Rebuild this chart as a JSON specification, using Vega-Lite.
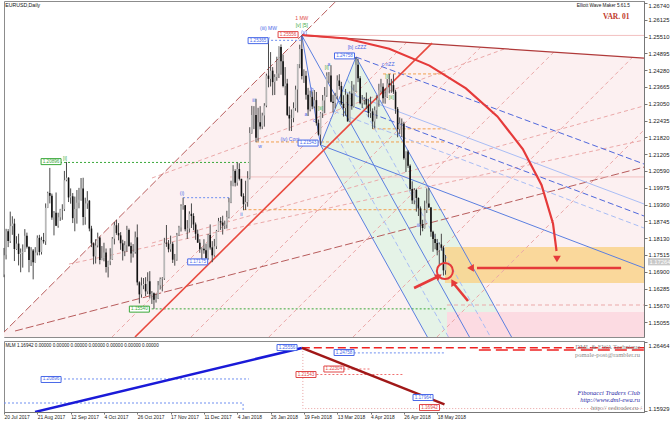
{
"$schema":"https://vega.github.io/schema/vega-lite/v6.json",
"padding":{"left":2,"top":0,"right":0,"bottom":0},
"background":"white",
"spacing":2,
"config":{"view":{"stroke":"#8c8c8c"},"axis":{"labelFont":"Liberation Sans","labelFontSize":5.8,"labelColor":"#222","domainColor":"#777","tickColor":"#777","tickSize":3,"grid":false,"title":null},"text":{"font":"Liberation Sans"}},
"datasets":{
"candles":[
{"i":-16,"o":1.1680,"h":1.1777,"l":1.1670,"c":1.1750},{"i":-15,"o":1.1752,"h":1.1847,"l":1.1735,"c":1.1838},{"i":-14,"o":1.1838,"h":1.1846,"l":1.1780,"c":1.1802},{"i":-13,"o":1.1802,"h":1.1910,"l":1.1795,"c":1.1857},{"i":-12,"o":1.1857,"h":1.1893,"l":1.1825,"c":1.1866},{"i":-11,"o":1.1866,"h":1.1884,"l":1.1729,"c":1.1773},{"i":-10,"o":1.1773,"h":1.1820,"l":1.1770,"c":1.1793},{"i":-9,"o":1.1793,"h":1.1829,"l":1.1713,"c":1.1755},{"i":-8,"o":1.1755,"h":1.1775,"l":1.1688,"c":1.1760},{"i":-7,"o":1.1760,"h":1.1790,"l":1.1705,"c":1.1763},{"i":-6,"o":1.1763,"h":1.1846,"l":1.1762,"c":1.1822},{"i":-5,"o":1.1822,"h":1.1833,"l":1.1775,"c":1.1781},{"i":-4,"o":1.1781,"h":1.1782,"l":1.1688,"c":1.1733},{"i":-3,"o":1.1733,"h":1.1780,"l":1.1711,"c":1.1768},{"i":-2,"o":1.1768,"h":1.1773,"l":1.1662,"c":1.1725},{"i":-1,"o":1.1725,"h":1.1780,"l":1.1723,"c":1.1760},
{"i":0,"o":1.1760,"h":1.1823,"l":1.1750,"c":1.1814},{"i":1,"o":1.1814,"h":1.1825,"l":1.1750,"c":1.1762},{"i":2,"o":1.1762,"h":1.1818,"l":1.1753,"c":1.1806},{"i":3,"o":1.1806,"h":1.1832,"l":1.1793,"c":1.1801},{"i":4,"o":1.1801,"h":1.1940,"l":1.1788,"c":1.1924},{"i":5,"o":1.1924,"h":1.1983,"l":1.1923,"c":1.1978},{"i":6,"o":1.1978,"h":1.2070,"l":1.1940,"c":1.1968},{"i":7,"o":1.1968,"h":1.1976,"l":1.1880,"c":1.1888},{"i":8,"o":1.1888,"h":1.1912,"l":1.1823,"c":1.1906},{"i":9,"o":1.1906,"h":1.1980,"l":1.1857,"c":1.1858},{"i":10,"o":1.1858,"h":1.1906,"l":1.1851,"c":1.1889},{"i":11,"o":1.1889,"h":1.1920,"l":1.1876,"c":1.1918},{"i":12,"o":1.1918,"h":1.1937,"l":1.1880,"c":1.1919},{"i":13,"o":1.1919,"h":1.2059,"l":1.1912,"c":1.2025},{"i":14,"o":1.2025,"h":1.2092,"l":1.2021,"c":1.2034},{"i":15,"o":1.2034,"h":1.2036,"l":1.1945,"c":1.1962},
{"i":16,"o":1.1962,"h":1.1995,"l":1.1939,"c":1.1966},{"i":17,"o":1.1966,"h":1.1978,"l":1.1868,"c":1.1886},{"i":18,"o":1.1886,"h":1.1965,"l":1.1838,"c":1.1920},{"i":19,"o":1.1920,"h":1.1989,"l":1.1866,"c":1.1942},{"i":20,"o":1.1942,"h":1.1997,"l":1.1922,"c":1.1953},{"i":21,"o":1.1953,"h":1.2033,"l":1.1950,"c":1.1995},{"i":22,"o":1.1995,"h":1.2034,"l":1.1860,"c":1.1890},{"i":23,"o":1.1890,"h":1.1961,"l":1.1862,"c":1.1940},{"i":24,"o":1.1940,"h":1.1985,"l":1.1920,"c":1.1950},{"i":25,"o":1.1950,"h":1.1952,"l":1.1838,"c":1.1848},{"i":26,"o":1.1848,"h":1.1858,"l":1.1780,"c":1.1794},{"i":27,"o":1.1794,"h":1.1797,"l":1.1717,"c":1.1746},{"i":28,"o":1.1746,"h":1.1809,"l":1.1720,"c":1.1786},{"i":29,"o":1.1786,"h":1.1833,"l":1.1779,"c":1.1815},{"i":30,"o":1.1815,"h":1.1819,"l":1.1717,"c":1.1733},{"i":31,"o":1.1733,"h":1.1784,"l":1.1732,"c":1.1740},
{"i":32,"o":1.1740,"h":1.1796,"l":1.1728,"c":1.1760},{"i":33,"o":1.1760,"h":1.1775,"l":1.1687,"c":1.1707},{"i":34,"o":1.1707,"h":1.1730,"l":1.1669,"c":1.1728},{"i":35,"o":1.1728,"h":1.1776,"l":1.1714,"c":1.1735},{"i":36,"o":1.1735,"h":1.1817,"l":1.1733,"c":1.1811},{"i":37,"o":1.1811,"h":1.1872,"l":1.1790,"c":1.1860},{"i":38,"o":1.1860,"h":1.1880,"l":1.1825,"c":1.1832},{"i":39,"o":1.1832,"h":1.1868,"l":1.1805,"c":1.1823},{"i":40,"o":1.1823,"h":1.1835,"l":1.1770,"c":1.1794},{"i":41,"o":1.1794,"h":1.1807,"l":1.1731,"c":1.1765},{"i":42,"o":1.1765,"h":1.1802,"l":1.1747,"c":1.1787},{"i":43,"o":1.1787,"h":1.1858,"l":1.1763,"c":1.1843},{"i":44,"o":1.1843,"h":1.1848,"l":1.1781,"c":1.1784},{"i":45,"o":1.1784,"h":1.1797,"l":1.1723,"c":1.1757},{"i":46,"o":1.1757,"h":1.1791,"l":1.1742,"c":1.1762},{"i":47,"o":1.1762,"h":1.1837,"l":1.1756,"c":1.1816},
{"i":48,"o":1.1816,"h":1.1863,"l":1.1640,"c":1.1651},{"i":49,"o":1.1651,"h":1.1655,"l":1.1574,"c":1.1607},{"i":50,"o":1.1607,"h":1.1669,"l":1.1595,"c":1.1640},{"i":51,"o":1.1640,"h":1.1667,"l":1.1626,"c":1.1645},{"i":52,"o":1.1645,"h":1.1670,"l":1.1601,"c":1.1618},{"i":53,"o":1.1618,"h":1.1688,"l":1.1608,"c":1.1655},{"i":54,"o":1.1655,"h":1.1692,"l":1.1592,"c":1.1607},{"i":55,"o":1.1607,"h":1.1619,"l":1.1572,"c":1.1611},{"i":56,"o":1.1611,"h":1.1614,"l":1.1554,"c":1.1587},{"i":57,"o":1.1587,"h":1.1610,"l":1.1577,"c":1.1592},{"i":58,"o":1.1592,"h":1.1656,"l":1.1590,"c":1.1640},{"i":59,"o":1.1640,"h":1.1669,"l":1.1625,"c":1.1663},{"i":60,"o":1.1663,"h":1.1670,"l":1.1618,"c":1.1665},{"i":61,"o":1.1665,"h":1.1814,"l":1.1660,"c":1.1796},{"i":62,"o":1.1796,"h":1.1861,"l":1.1781,"c":1.1793},{"i":63,"o":1.1793,"h":1.1806,"l":1.1761,"c":1.1772},
{"i":64,"o":1.1772,"h":1.1822,"l":1.1763,"c":1.1792},{"i":65,"o":1.1792,"h":1.1799,"l":1.1722,"c":1.1734},{"i":66,"o":1.1734,"h":1.1755,"l":1.1712,"c":1.1734},{"i":67,"o":1.1734,"h":1.1832,"l":1.1730,"c":1.1825},{"i":68,"o":1.1825,"h":1.1858,"l":1.1821,"c":1.1852},{"i":69,"o":1.1852,"h":1.1937,"l":1.1837,"c":1.1931},{"i":70,"o":1.1931,"h":1.1961,"l":1.1917,"c":1.1933},{"i":71,"o":1.1933,"h":1.1934,"l":1.1838,"c":1.1845},{"i":72,"o":1.1845,"h":1.1879,"l":1.1810,"c":1.1848},{"i":73,"o":1.1848,"h":1.1911,"l":1.1834,"c":1.1902},{"i":74,"o":1.1902,"h":1.1940,"l":1.1850,"c":1.1894},{"i":75,"o":1.1894,"h":1.1904,"l":1.1842,"c":1.1863},{"i":76,"o":1.1863,"h":1.1870,"l":1.1807,"c":1.1829},{"i":77,"o":1.1829,"h":1.1844,"l":1.1797,"c":1.1796},{"i":78,"o":1.1796,"h":1.1809,"l":1.1759,"c":1.1772},{"i":79,"o":1.1772,"h":1.1779,"l":1.1730,"c":1.1774},
{"i":80,"o":1.1774,"h":1.1809,"l":1.1756,"c":1.1769},{"i":81,"o":1.1769,"h":1.1793,"l":1.1717,"c":1.1740},{"i":82,"o":1.1740,"h":1.1828,"l":1.1734,"c":1.1824},{"i":83,"o":1.1824,"h":1.1863,"l":1.1771,"c":1.1779},{"i":84,"o":1.1779,"h":1.1802,"l":1.1725,"c":1.1750},{"i":85,"o":1.1750,"h":1.1810,"l":1.1745,"c":1.1783},{"i":86,"o":1.1783,"h":1.1843,"l":1.1773,"c":1.1839},{"i":87,"o":1.1839,"h":1.1887,"l":1.1837,"c":1.1875},{"i":88,"o":1.1875,"h":1.1890,"l":1.1843,"c":1.1870},{"i":89,"o":1.1870,"h":1.1895,"l":1.1826,"c":1.1859},{"i":90,"o":1.1859,"h":1.1877,"l":1.1846,"c":1.1862},{"i":91,"o":1.1862,"h":1.1913,"l":1.1848,"c":1.1890},{"i":92,"o":1.1890,"h":1.1960,"l":1.1885,"c":1.1944},{"i":93,"o":1.1944,"h":1.2023,"l":1.1941,"c":1.2005},{"i":94,"o":1.2005,"h":1.2080,"l":1.2003,"c":1.2059},{"i":95,"o":1.2059,"h":1.2065,"l":1.2002,"c":1.2016},
{"i":96,"o":1.2016,"h":1.2089,"l":1.2005,"c":1.2066},{"i":97,"o":1.2066,"h":1.2087,"l":1.2024,"c":1.2030},{"i":98,"o":1.2030,"h":1.2030,"l":1.1964,"c":1.1967},{"i":99,"o":1.1967,"h":1.1977,"l":1.1915,"c":1.1937},{"i":100,"o":1.1937,"h":1.2023,"l":1.1916,"c":1.1945},{"i":101,"o":1.1945,"h":1.2058,"l":1.1928,"c":1.2032},{"i":102,"o":1.2032,"h":1.2219,"l":1.2028,"c":1.2198},{"i":103,"o":1.2198,"h":1.2297,"l":1.2195,"c":1.2264},{"i":104,"o":1.2264,"h":1.2296,"l":1.2212,"c":1.2264},{"i":105,"o":1.2264,"h":1.2323,"l":1.2164,"c":1.2180},{"i":106,"o":1.2180,"h":1.2290,"l":1.2167,"c":1.2237},{"i":107,"o":1.2237,"h":1.2296,"l":1.2211,"c":1.2222},{"i":108,"o":1.2222,"h":1.2272,"l":1.2212,"c":1.2262},{"i":109,"o":1.2262,"h":1.2307,"l":1.2221,"c":1.2298},{"i":110,"o":1.2298,"h":1.2415,"l":1.2292,"c":1.2408},{"i":111,"o":1.2408,"h":1.2537,"l":1.2365,"c":1.2396},
{"i":112,"o":1.2396,"h":1.2494,"l":1.2368,"c":1.2426},{"i":113,"o":1.2426,"h":1.2439,"l":1.2336,"c":1.2384},{"i":114,"o":1.2384,"h":1.2413,"l":1.2337,"c":1.2403},{"i":115,"o":1.2403,"h":1.2477,"l":1.2389,"c":1.2416},{"i":116,"o":1.2416,"h":1.2515,"l":1.2399,"c":1.2513},{"i":117,"o":1.2513,"h":1.2522,"l":1.2411,"c":1.2460},{"i":118,"o":1.2460,"h":1.2485,"l":1.2365,"c":1.2370},{"i":119,"o":1.2370,"h":1.2439,"l":1.2336,"c":1.2379},{"i":120,"o":1.2379,"h":1.2396,"l":1.2260,"c":1.2264},{"i":121,"o":1.2264,"h":1.2295,"l":1.2206,"c":1.2251},{"i":122,"o":1.2251,"h":1.2284,"l":1.2205,"c":1.2253},{"i":123,"o":1.2253,"h":1.2310,"l":1.2237,"c":1.2289},{"i":124,"o":1.2289,"h":1.2371,"l":1.2279,"c":1.2357},{"i":125,"o":1.2357,"h":1.2450,"l":1.2273,"c":1.2450},{"i":126,"o":1.2450,"h":1.2521,"l":1.2435,"c":1.2505},{"i":127,"o":1.2505,"h":1.2555,"l":1.2394,"c":1.2406},
{"i":128,"o":1.2406,"h":1.2431,"l":1.2381,"c":1.2407},{"i":129,"o":1.2407,"h":1.2425,"l":1.2320,"c":1.2338},{"i":130,"o":1.2338,"h":1.2363,"l":1.2260,"c":1.2284},{"i":131,"o":1.2284,"h":1.2353,"l":1.2277,"c":1.2330},{"i":132,"o":1.2330,"h":1.2350,"l":1.2285,"c":1.2295},{"i":133,"o":1.2295,"h":1.2355,"l":1.2288,"c":1.2318},{"i":134,"o":1.2318,"h":1.2348,"l":1.2225,"c":1.2234},{"i":135,"o":1.2234,"h":1.2247,"l":1.2188,"c":1.2192},{"i":136,"o":1.2192,"h":1.2274,"l":1.2154,"c":1.2270},{"i":137,"o":1.2270,"h":1.2337,"l":1.2253,"c":1.2317},{"i":138,"o":1.2317,"h":1.2366,"l":1.2270,"c":1.2335},{"i":139,"o":1.2335,"h":1.2420,"l":1.2330,"c":1.2407},{"i":140,"o":1.2407,"h":1.2421,"l":1.2380,"c":1.2408},{"i":141,"o":1.2408,"h":1.2446,"l":1.2310,"c":1.2312},{"i":142,"o":1.2312,"h":1.2338,"l":1.2273,"c":1.2308},{"i":143,"o":1.2308,"h":1.2345,"l":1.2288,"c":1.2334},
{"i":144,"o":1.2334,"h":1.2409,"l":1.2321,"c":1.2390},{"i":145,"o":1.2390,"h":1.2413,"l":1.2356,"c":1.2370},{"i":146,"o":1.2370,"h":1.2385,"l":1.2300,"c":1.2305},{"i":147,"o":1.2305,"h":1.2336,"l":1.2258,"c":1.2289},{"i":148,"o":1.2289,"h":1.2359,"l":1.2261,"c":1.2338},{"i":149,"o":1.2338,"h":1.2343,"l":1.2240,"c":1.2240},{"i":150,"o":1.2240,"h":1.2350,"l":1.2238,"c":1.2342},{"i":151,"o":1.2342,"h":1.2388,"l":1.2283,"c":1.2297},{"i":152,"o":1.2297,"h":1.2375,"l":1.2291,"c":1.2352},{"i":153,"o":1.2352,"h":1.2476,"l":1.2348,"c":1.2448},{"i":154,"o":1.2448,"h":1.2470,"l":1.2384,"c":1.2398},{"i":155,"o":1.2398,"h":1.2406,"l":1.2303,"c":1.2307},{"i":156,"o":1.2307,"h":1.2337,"l":1.2289,"c":1.2319},{"i":157,"o":1.2319,"h":1.2329,"l":1.2302,"c":1.2323},{"i":158,"o":1.2323,"h":1.2346,"l":1.2286,"c":1.2302},{"i":159,"o":1.2302,"h":1.2323,"l":1.2256,"c":1.2271},
{"i":160,"o":1.2271,"h":1.2331,"l":1.2253,"c":1.2277},{"i":161,"o":1.2277,"h":1.2288,"l":1.2213,"c":1.2240},{"i":162,"o":1.2240,"h":1.2295,"l":1.2215,"c":1.2281},{"i":163,"o":1.2281,"h":1.2336,"l":1.2250,"c":1.2318},{"i":164,"o":1.2318,"h":1.2378,"l":1.2294,"c":1.2354},{"i":165,"o":1.2354,"h":1.2396,"l":1.2346,"c":1.2367},{"i":166,"o":1.2367,"h":1.2380,"l":1.2306,"c":1.2325},{"i":167,"o":1.2325,"h":1.2360,"l":1.2305,"c":1.2330},{"i":168,"o":1.2330,"h":1.2396,"l":1.2326,"c":1.2379},{"i":169,"o":1.2379,"h":1.2414,"l":1.2343,"c":1.2374},{"i":170,"o":1.2374,"h":1.2396,"l":1.2345,"c":1.2373},{"i":171,"o":1.2373,"h":1.2413,"l":1.2341,"c":1.2349},{"i":172,"o":1.2349,"h":1.2356,"l":1.2268,"c":1.2286},{"i":173,"o":1.2286,"h":1.2293,"l":1.2182,"c":1.2212},{"i":174,"o":1.2212,"h":1.2255,"l":1.2194,"c":1.2233},{"i":175,"o":1.2233,"h":1.2251,"l":1.2183,"c":1.2232},
{"i":176,"o":1.2232,"h":1.2239,"l":1.2100,"c":1.2105},{"i":177,"o":1.2105,"h":1.2130,"l":1.2055,"c":1.2130},{"i":178,"o":1.2130,"h":1.2135,"l":1.2070,"c":1.2078},{"i":179,"o":1.2078,"h":1.2083,"l":1.1986,"c":1.1993},{"i":180,"o":1.1993,"h":1.2021,"l":1.1938,"c":1.1951},{"i":181,"o":1.1951,"h":1.1996,"l":1.1937,"c":1.1989},{"i":182,"o":1.1989,"h":1.1994,"l":1.1910,"c":1.1960},{"i":183,"o":1.1960,"h":1.1962,"l":1.1894,"c":1.1922},{"i":184,"o":1.1922,"h":1.1929,"l":1.1823,"c":1.1864},{"i":185,"o":1.1864,"h":1.1880,"l":1.1838,"c":1.1850},{"i":186,"o":1.1850,"h":1.1950,"l":1.1848,"c":1.1915},{"i":187,"o":1.1915,"h":1.1995,"l":1.1905,"c":1.1940},{"i":188,"o":1.1940,"h":1.1997,"l":1.1924,"c":1.1925},{"i":189,"o":1.1925,"h":1.1927,"l":1.1818,"c":1.1836},{"i":190,"o":1.1836,"h":1.1840,"l":1.1763,"c":1.1810},{"i":191,"o":1.1810,"h":1.1829,"l":1.1772,"c":1.1795},
{"i":192,"o":1.1795,"h":1.1810,"l":1.1750,"c":1.1769},{"i":193,"o":1.1769,"h":1.1797,"l":1.1717,"c":1.1790},{"i":194,"o":1.1790,"h":1.1829,"l":1.1767,"c":1.1778},{"i":195,"o":1.1778,"h":1.1785,"l":1.1676,"c":1.1695},{"i":196,"o":1.1695,"h":1.1751,"l":1.1679,"c":1.1726}
],
"pinkpoly":[{"i":-16.9,"p":1.1462},{"i":127,"p":1.2555},{"i":291.3,"p":1.2472}],
"fork":[{"i":136,"p":1.2154,"p2":1.2154},{"i":153,"p":1.2476,"p2":1.19209},{"i":187.3,"p":1.20056,"p2":1.1451},{"i":227.7,"p":1.1451,"p2":1.1451}],
"zones":[{"z":"orange","i":195.7,"i2":291.3,"p":1.17805,"p2":1.16487},{"z":"pink","i":196.7,"i2":291.3,"p":1.15425,"p2":1.1451}],
"lines":[
{"g":"darkred","k":"top","n":1,"i":127,"p":1.2555},{"g":"darkred","k":"top","n":2,"i":291.3,"p":1.2472},
{"g":"red","k":"zb","n":1,"i":46.9,"p":1.1451},{"g":"red","k":"zb","n":2,"i":189.5,"p":1.2527},
{"g":"browndash","k":"rise","n":1,"i":-16.9,"p":1.1462},{"g":"browndash","k":"rise","n":2,"i":143.5,"p":1.2681},
{"g":"browndash","k":"bd1","n":1,"i":-10.7,"p":1.1473},{"g":"browndash","k":"bd1","n":2,"i":291.3,"p":1.2073},
{"g":"pinkdash","k":"pd1","n":1,"i":15.2,"p":1.1718},{"g":"pinkdash","k":"pd1","n":2,"i":291.3,"p":1.2172},
{"g":"pinkdash","k":"pd2","n":1,"i":55.06,"p":1.1795},{"g":"pinkdash","k":"pd2","n":2,"i":291.3,"p":1.2297},
{"g":"pinkdash","k":"pd3","n":1,"i":55.06,"p":1.2033},{"g":"pinkdash","k":"pd3","n":2,"i":224.1,"p":1.2505},
{"g":"pinkdash","k":"pp1","n":1,"i":35.86,"p":1.1451},{"g":"pinkdash","k":"pp1","n":2,"i":177.4,"p":1.2530},
{"g":"pinkdash","k":"pp2","n":1,"i":73.8,"p":1.1451},{"g":"pinkdash","k":"pp2","n":2,"i":212.9,"p":1.2512},
{"g":"pinkdash","k":"pp3","n":1,"i":111.2,"p":1.1451},{"g":"pinkdash","k":"pp3","n":2,"i":248.0,"p":1.2494},
{"g":"pinkdash","k":"pp4","n":1,"i":151.6,"p":1.1451},{"g":"pinkdash","k":"pp4","n":2,"i":285.8,"p":1.2475},
{"g":"pinkdash","k":"pp5","n":1,"i":191.9,"p":1.1451},{"g":"pinkdash","k":"pp5","n":2,"i":291.3,"p":1.2209},
{"g":"pinkdash","k":"ph","n":1,"i":196.7,"p":1.15681},{"g":"pinkdash","k":"ph","n":2,"i":291.3,"p":1.15681},
{"g":"pinkline","k":"h1","n":1,"i":127,"p":1.2555},{"g":"pinkline","k":"h1","n":2,"i":291.3,"p":1.2555},
{"g":"pinkline","k":"h2","n":1,"i":92.5,"p":1.2037},{"g":"pinkline","k":"h2","n":2,"i":291.3,"p":1.2037},
{"g":"blue","k":"va","n":1,"i":127,"p":1.2555},{"g":"blue","k":"va","n":2,"i":136,"p":1.2154},
{"g":"blue","k":"ab","n":1,"i":136,"p":1.2154},{"g":"blue","k":"ab","n":2,"i":153,"p":1.2476},
{"g":"blue","k":"med","n":1,"i":127,"p":1.2555},{"g":"blue","k":"med","n":2,"i":207.5,"p":1.1451},
{"g":"blue","k":"fa","n":1,"i":136,"p":1.2154},{"g":"blue","k":"fa","n":2,"i":187.3,"p":1.1451},
{"g":"blue","k":"fb","n":1,"i":153,"p":1.2476},{"g":"blue","k":"fb","n":2,"i":227.7,"p":1.1451},
{"g":"blue","k":"chlo","n":1,"i":136,"p":1.2154},{"g":"blue","k":"chlo","n":2,"i":291.3,"p":1.17036},
{"g":"bluedash","k":"chup","n":1,"i":153,"p":1.2476},{"g":"bluedash","k":"chup","n":2,"i":291.3,"p":1.20843},
{"g":"bluedash","k":"ch50","n":1,"i":144.5,"p":1.2315},{"g":"bluedash","k":"ch50","n":2,"i":291.3,"p":1.1894},
{"g":"ltblue","k":"ch38","n":1,"i":146.5,"p":1.2353},{"g":"ltblue","k":"ch38","n":2,"i":291.3,"p":1.19379},
{"g":"ltbluedash","k":"ch62","n":1,"i":142.5,"p":1.2277},{"g":"ltbluedash","k":"ch62","n":2,"i":291.3,"p":1.1850},
{"g":"ltbluedash","k":"f25","n":1,"i":140.25,"p":1.22345},{"g":"ltbluedash","k":"f25","n":2,"i":197.4,"p":1.1451},
{"g":"ltbluedash","k":"f75","n":1,"i":148.75,"p":1.23955},{"g":"ltbluedash","k":"f75","n":2,"i":217.6,"p":1.1451},
{"g":"greendot","k":"g1","n":1,"i":10.9,"p":1.2090},{"g":"greendot","k":"g1","n":2,"i":101.6,"p":1.2090},
{"g":"greendot","k":"g2","n":1,"i":54.9,"p":1.1554},{"g":"greendot","k":"g2","n":2,"i":196,"p":1.1554},
{"g":"bluedot","k":"b1","n":1,"i":108.4,"p":1.2537},{"g":"bluedot","k":"b1","n":2,"i":127,"p":1.2537},
{"g":"bluedot","k":"b2","n":1,"i":70,"p":1.1961},{"g":"bluedot","k":"b2","n":2,"i":92.5,"p":1.1961},
{"g":"orangedot","k":"o1","n":1,"i":105,"p":1.2165},{"g":"orangedot","k":"o1","n":2,"i":196,"p":1.2165},
{"g":"orangedot","k":"o2","n":1,"i":99,"p":1.1917},{"g":"orangedot","k":"o2","n":2,"i":196,"p":1.1917},
{"g":"orangedot","k":"o3","n":1,"i":161,"p":1.2213},{"g":"orangedot","k":"o3","n":2,"i":196,"p":1.2213},
{"g":"orangedot","k":"o4","n":1,"i":166,"p":1.2414},{"g":"orangedot","k":"o4","n":2,"i":196,"p":1.2414}
],
"arc":[{"n":1,"i":127.1,"p":1.25565},{"n":2,"i":148.4,"p":1.25437},{"n":3,"i":168.95,"p":1.25064},{"n":4,"i":188.3,"p":1.24445},{"n":5,"i":205.8,"p":1.2361},{"n":6,"i":220.9,"p":1.22586},{"n":7,"i":233.1,"p":1.21392},{"n":8,"i":242.1,"p":1.20074},{"n":9,"i":247.6,"p":1.18669},{"n":10,"i":249.3,"p":1.17658}],
"arrows":[{"k":"h","n":1,"i":280.3,"p":1.17036},{"k":"h","n":2,"i":211.1,"p":1.17036},{"k":"s1","n":1,"i":180.9,"p":1.16304},{"k":"s1","n":2,"i":191.9,"p":1.16706},{"k":"s2","n":1,"i":206.8,"p":1.15828},{"k":"s2","n":2,"i":200.07,"p":1.1645}],
"heads":[{"k":"arc","i":249.5,"p":1.17365,"a":180},{"k":"h","i":208,"p":1.17036,"a":270},{"k":"s1","i":192.8,"p":1.1674,"a":60},{"k":"s2","i":199.6,"p":1.1652,"a":-30}],
"circle":[{"i":195.7,"p":1.16926}],
"boxes":[{"g":"red","i":120.4,"p":1.2558,"t":"1.25556"},{"g":"blue","i":106,"p":1.2536,"t":"1.25365"},{"g":"green","i":6.6,"p":1.2093,"t":"1.20896"},{"g":"green","i":49,"p":1.1553,"t":"1.15540"},{"g":"blue","i":130,"p":1.2161,"t":"1.21543"},{"g":"blue","i":147.5,"p":1.2480,"t":"1.24758"},{"g":"blue","i":77,"p":1.1726,"t":"1.17175"}],
"labels":[{"g":"brown","i":127,"p":1.2619,"t":"1 MW"},{"g":"green","i":127,"p":1.2593,"t":"[v] [5]"},{"g":"blue","i":128,"p":1.2568,"t":"(v)"},{"g":"blue","i":111,"p":1.2581,"t":"(iii) MW"},{"g":"blue","i":153.5,"p":1.2514,"t":"[b] cZZZ"},{"g":"orange","i":168.4,"p":1.2450,"t":"c nZZ"},{"g":"blue","i":69.5,"p":1.1978,"t":"(i)"},{"g":"green","i":13.3,"p":1.2106,"t":"[i]"},{"g":"blue","i":121.3,"p":1.2174,"t":"(iv) Cont"},{"g":"orange","i":111,"p":1.2545,"t":"v"},{"g":"orange","i":127,"p":1.2545,"t":"b"},{"g":"orange","i":104,"p":1.2320,"t":"iii"},{"g":"orange","i":107,"p":1.2150,"t":"w"},{"g":"orange","i":129,"p":1.2268,"t":"a"},{"g":"orange","i":133,"p":1.2245,"t":"c"},{"g":"orange","i":98,"p":1.1900,"t":"ii"},{"g":"orange","i":132,"p":1.2360,"t":"b"},{"g":"orange","i":140,"p":1.2450,"t":"a"},{"g":"green","i":139,"p":1.2440,"t":"[i]"},{"g":"green","i":136,"p":1.2290,"t":"[ii]"},{"g":"green","i":168,"p":1.2405,"t":"[i]"},{"g":"green","i":170,"p":1.2330,"t":"[ii]"},{"g":"orange","i":183,"p":1.1860,"t":"iii"}],
"btexts":[{"g":"plain","a":"left","i":-15.3,"p":1.2585,"t":"MLM 1.16942 0.00000 0.00000 0.00000 0.00000 0.00000 0.00000 0.00000"},{"g":"gray","a":"right","i":289.4,"p":1.2570,"t":"DML & EWA Technique"},{"g":"gray","a":"right","i":289.4,"p":1.2448,"t":"pomale-post@rambler.ru"},{"g":"navy","a":"right","i":289.4,"p":1.1868,"t":"Fibonacci   Traders   Club"},{"g":"navy","a":"right","i":289.4,"p":1.1761,"t":"http://www.dml-ewa.ru"},{"g":"gray","a":"right","i":290.2,"p":1.1639,"t":"http:// redtrader.ru /"}],
"blines":[
{"g":"blue","k":"up","n":1,"i":-1.1,"p":1.1578},{"g":"blue","k":"up","n":2,"i":127,"p":1.2556},
{"g":"darkred","k":"dn","n":1,"i":127,"p":1.2556},{"g":"darkred","k":"dn","n":2,"i":195.5,"p":1.1694},
{"g":"reddash","k":"r1","n":1,"i":127,"p":1.2559},{"g":"reddash","k":"r1","n":2,"i":291.3,"p":1.2559},
{"g":"reddash2","k":"r2","n":1,"i":212,"p":1.2524},{"g":"reddash2","k":"r2","n":2,"i":291.3,"p":1.2524},
{"g":"bluedot","k":"d1","n":1,"i":10.9,"p":1.2082},{"g":"bluedot","k":"d1","n":2,"i":101.6,"p":1.2082},
{"g":"bluedot","k":"d2","n":1,"i":-16,"p":1.1715},{"g":"bluedot","k":"d2","n":2,"i":98.8,"p":1.1715},{"g":"bluedot","k":"d2","n":3,"i":98.8,"p":1.1578},
{"g":"bluedot","k":"d3","n":1,"i":152,"p":1.2480},{"g":"bluedot","k":"d3","n":2,"i":196,"p":1.2480},
{"g":"reddot","k":"d4","n":1,"i":147,"p":1.2234},{"g":"reddot","k":"d4","n":2,"i":160,"p":1.2234},
{"g":"reddot","k":"d5","n":1,"i":134,"p":1.2150},{"g":"reddot","k":"d5","n":2,"i":176,"p":1.2150},
{"g":"pinkdot","k":"d6","n":1,"i":127.5,"p":1.2556},{"g":"pinkdot","k":"d6","n":2,"i":127.5,"p":1.1630},{"g":"pinkdot","k":"d6","n":3,"i":291.3,"p":1.1630}
],
"bboxes":[{"g":"blue","i":119.9,"p":1.2562,"t":"1.25556"},{"g":"blue","i":6.6,"p":1.2074,"t":"1.20896"},{"g":"blue","i":147.3,"p":1.2486,"t":"1.24758"},{"g":"red","i":142.4,"p":1.2234,"t":"1.22304"},{"g":"red","i":129,"p":1.2150,"t":"1.21543"},{"g":"blue","i":185.2,"p":1.1799,"t":"1.17964"},{"g":"red","i":188.3,"p":1.1646,"t":"1.16942"}]
},
"vconcat":[
{"width":640,"height":336,
"encoding":{"x":{"field":"i","type":"quantitative","scale":{"domain":[-16,291.3],"nice":false,"zero":false},"axis":null},
"y":{"field":"p","type":"quantitative","scale":{"domain":[1.1451,1.2681],"nice":false,"zero":false},"axis":{"orient":"right","values":[1.2674,1.26125,1.2551,1.24895,1.2428,1.23665,1.2305,1.22435,1.2182,1.21205,1.2059,1.19975,1.1936,1.18745,1.1813,1.17515,1.169,1.16285,1.1567,1.15055],"format":".5f","labelPadding":1,"labelFlush":3}}},
"layer":[
{"data":{"name":"pinkpoly"},"mark":{"type":"area","color":"#fcf0f1","clip":true},"encoding":{"y2":{"datum":1.1451}}},
{"data":{"name":"fork"},"mark":{"type":"area","color":"#e2f3e6","opacity":0.9,"clip":true},"encoding":{"y2":{"field":"p2"}}},
{"data":{"name":"zones"},"transform":[{"filter":"datum.z=='orange'"}],"mark":{"type":"rect","color":"#f9d38c","opacity":0.85},"encoding":{"x2":{"field":"i2"},"y2":{"field":"p2"}}},
{"data":{"name":"zones"},"transform":[{"filter":"datum.z=='pink'"}],"mark":{"type":"rect","color":"#fcdbe2"},"encoding":{"x2":{"field":"i2"},"y2":{"field":"p2"}}},
{"data":{"name":"lines"},"transform":[{"filter":"datum.g=='pinkdash'"}],"mark":{"type":"line","color":"#eba9a9","strokeWidth":1,"strokeDash":[4,3],"clip":true},"encoding":{"detail":{"field":"k"},"order":{"field":"n"}}},
{"data":{"name":"lines"},"transform":[{"filter":"datum.g=='browndash'"}],"mark":{"type":"line","color":"#b85c5c","strokeWidth":1,"strokeDash":[8,3],"clip":true},"encoding":{"detail":{"field":"k"},"order":{"field":"n"}}},
{"data":{"name":"lines"},"transform":[{"filter":"datum.g=='pinkline'"}],"mark":{"type":"line","color":"#f2c0c0","strokeWidth":1,"clip":true},"encoding":{"detail":{"field":"k"},"order":{"field":"n"}}},
{"data":{"name":"lines"},"transform":[{"filter":"datum.g=='greendot'"}],"mark":{"type":"line","color":"#3aa83a","strokeWidth":1,"strokeDash":[2,2],"clip":true},"encoding":{"detail":{"field":"k"},"order":{"field":"n"}}},
{"data":{"name":"lines"},"transform":[{"filter":"datum.g=='bluedot'"}],"mark":{"type":"line","color":"#6f8ff0","strokeWidth":1,"strokeDash":[2,2],"clip":true},"encoding":{"detail":{"field":"k"},"order":{"field":"n"}}},
{"data":{"name":"lines"},"transform":[{"filter":"datum.g=='orangedot'"}],"mark":{"type":"line","color":"#f0a050","strokeWidth":1,"strokeDash":[3,2],"clip":true},"encoding":{"detail":{"field":"k"},"order":{"field":"n"}}},
{"data":{"name":"lines"},"transform":[{"filter":"datum.g=='ltblue'"}],"mark":{"type":"line","color":"#a9bdf5","strokeWidth":1,"clip":true},"encoding":{"detail":{"field":"k"},"order":{"field":"n"}}},
{"data":{"name":"lines"},"transform":[{"filter":"datum.g=='ltbluedash'"}],"mark":{"type":"line","color":"#a9bdf5","strokeWidth":1,"strokeDash":[5,3],"clip":true},"encoding":{"detail":{"field":"k"},"order":{"field":"n"}}},
{"data":{"name":"lines"},"transform":[{"filter":"datum.g=='bluedash'"}],"mark":{"type":"line","color":"#5068dc","strokeWidth":1,"strokeDash":[6,3],"clip":true},"encoding":{"detail":{"field":"k"},"order":{"field":"n"}}},
{"data":{"name":"lines"},"transform":[{"filter":"datum.g=='blue'"}],"mark":{"type":"line","color":"#5b7fe0","strokeWidth":1,"clip":true},"encoding":{"detail":{"field":"k"},"order":{"field":"n"}}},
{"data":{"name":"lines"},"transform":[{"filter":"datum.g=='darkred'"}],"mark":{"type":"line","color":"#b03a3a","strokeWidth":1.3,"clip":true},"encoding":{"detail":{"field":"k"},"order":{"field":"n"}}},
{"data":{"name":"lines"},"transform":[{"filter":"datum.g=='red'"}],"mark":{"type":"line","color":"#e84a3f","strokeWidth":1.6,"clip":true},"encoding":{"detail":{"field":"k"},"order":{"field":"n"}}},
{"data":{"values":[{}]},"mark":{"type":"rule","color":"#c4c4c4","strokeWidth":1},"encoding":{"x":{"datum":-16},"x2":{"datum":291.3},"y":{"datum":1.17264}}},
{"data":{"name":"candles"},"mark":{"type":"rule","color":"#4a4a4a","strokeWidth":1},"encoding":{"y":{"field":"l"},"y2":{"field":"h"}}},
{"data":{"name":"candles"},"mark":{"type":"rule","strokeWidth":1.6},"encoding":{"y":{"field":"o"},"y2":{"field":"c"},"color":{"condition":{"test":"datum.c>=datum.o","value":"#b8b8b8"},"value":"#111111"}}},
{"data":{"name":"arc"},"mark":{"type":"line","color":"#e53a3a","strokeWidth":2.2},"encoding":{"order":{"field":"n"}}},
{"data":{"name":"arrows"},"mark":{"type":"line","color":"#e53a3a","strokeWidth":2.6},"encoding":{"detail":{"field":"k"},"order":{"field":"n"}}},
{"data":{"name":"heads"},"mark":{"type":"point","shape":"triangle-up","filled":true,"color":"#e53a3a","size":60,"opacity":1},"encoding":{"angle":{"field":"a","type":"quantitative","scale":null}}},
{"data":{"name":"circle"},"mark":{"type":"point","shape":"circle","filled":false,"color":"#e53a3a","strokeWidth":2,"size":260,"opacity":1}},
{"data":{"name":"boxes"},"mark":{"type":"point","shape":"M-1,-0.3L1,-0.3L1,0.3L-1,0.3Z","filled":true,"fill":"white","size":400,"strokeWidth":1,"opacity":1},"encoding":{"stroke":{"field":"g","type":"nominal","scale":{"domain":["red","blue","green"],"range":["#e04848","#4a6ae8","#3aa83a"]},"legend":null}}},
{"data":{"name":"boxes"},"mark":{"type":"text","fontSize":4.6},"encoding":{"text":{"field":"t"},"color":{"field":"g","type":"nominal","scale":{"domain":["red","blue","green"],"range":["#e04848","#4a6ae8","#3aa83a"]},"legend":null}}},
{"data":{"name":"labels"},"mark":{"type":"text","fontSize":5},"encoding":{"text":{"field":"t"},"color":{"field":"g","type":"nominal","scale":{"domain":["brown","green","blue","orange"],"range":["#c0504d","#3aa83a","#4a6ae8","#e8873a"]},"legend":null}}},
{"data":{"values":[{"i":-15.4,"p":1.2665,"t":"EURUSD,Daily"}]},"mark":{"type":"text","align":"left","fontSize":5.2,"color":"#111"},"encoding":{"text":{"field":"t"}}},
{"data":{"values":[{"i":259,"p":1.2663,"t":"Elliott Wave Maker 5.61.5"}]},"mark":{"type":"text","align":"left","fontSize":4.7,"color":"#111"},"encoding":{"text":{"field":"t"}}},
{"data":{"values":[{"i":271.6,"p":1.2622,"t":"VAR. 01"}]},"mark":{"type":"text","align":"left","fontSize":7.5,"font":"Liberation Serif","fontWeight":"bold","color":"#c0392b"},"encoding":{"text":{"field":"t"}}},
{"data":{"values":[{"i":291.3,"p":1.17264}]},"mark":{"type":"point","shape":"M-1,-0.3L1,-0.3L1,0.3L-1,0.3Z","filled":true,"color":"#c8c8c8","size":576,"opacity":1,"xOffset":16}},
{"data":{"values":[{"i":291.3,"p":1.17264,"t":"1.17264"}]},"mark":{"type":"text","fontSize":5.8,"color":"white","xOffset":16},"encoding":{"text":{"field":"t"}}}
]},
{"width":640,"height":71,
"encoding":{"x":{"field":"i","type":"quantitative","scale":{"domain":[-16,291.3],"nice":false,"zero":false},"axis":{"values":[-16,0,16,32,48,64,80,96,112,128,144,160,176,192],"labelExpr":"['20 Jul 2017','21 Aug 2017','12 Sep 2017','4 Oct 2017','26 Oct 2017','17 Nov 2017','11 Dec 2017','4 Jan 2018','26 Jan 2018','19 Feb 2018','13 Mar 2018','4 Apr 2018','26 Apr 2018','18 May 2018'][(datum.value+16)/16]","labelAlign":"left","labelPadding":0,"tickSize":2,"labelFlush":false,"labelOverlap":false,"labelFontSize":4.9}},
"y":{"field":"p","type":"quantitative","scale":{"domain":[1.15777,1.26617],"nice":false,"zero":false},"axis":{"orient":"right","values":[1.26464,1.15929],"format":".5f","labelPadding":1,"labelFlush":3}}},
"layer":[
{"data":{"name":"blines"},"transform":[{"filter":"datum.g=='bluedot'"}],"mark":{"type":"line","color":"#6f8ff0","strokeWidth":1,"strokeDash":[2,2],"clip":true},"encoding":{"detail":{"field":"k"},"order":{"field":"n"}}},
{"data":{"name":"blines"},"transform":[{"filter":"datum.g=='reddot'"}],"mark":{"type":"line","color":"#f07070","strokeWidth":1,"strokeDash":[2,2],"clip":true},"encoding":{"detail":{"field":"k"},"order":{"field":"n"}}},
{"data":{"name":"blines"},"transform":[{"filter":"datum.g=='pinkdot'"}],"mark":{"type":"line","color":"#e8a0a0","strokeWidth":1,"strokeDash":[1,2],"clip":true},"encoding":{"detail":{"field":"k"},"order":{"field":"n"}}},
{"data":{"name":"blines"},"transform":[{"filter":"datum.g=='reddash'"}],"mark":{"type":"line","color":"#ee2222","strokeWidth":1.6,"strokeDash":[8,4],"clip":true},"encoding":{"detail":{"field":"k"},"order":{"field":"n"}}},
{"data":{"name":"blines"},"transform":[{"filter":"datum.g=='reddash2'"}],"mark":{"type":"line","color":"#ee2222","strokeWidth":1.6,"strokeDash":[12,5],"clip":true},"encoding":{"detail":{"field":"k"},"order":{"field":"n"}}},
{"data":{"name":"blines"},"transform":[{"filter":"datum.g=='blue'"}],"mark":{"type":"line","color":"#1a1ad8","strokeWidth":2.5,"clip":true},"encoding":{"detail":{"field":"k"},"order":{"field":"n"}}},
{"data":{"name":"blines"},"transform":[{"filter":"datum.g=='darkred'"}],"mark":{"type":"line","color":"#a01818","strokeWidth":2.5,"clip":true},"encoding":{"detail":{"field":"k"},"order":{"field":"n"}}},
{"data":{"name":"bboxes"},"mark":{"type":"point","shape":"M-1,-0.3L1,-0.3L1,0.3L-1,0.3Z","filled":true,"fill":"white","size":400,"strokeWidth":1,"opacity":1},"encoding":{"stroke":{"field":"g","type":"nominal","scale":{"domain":["red","blue"],"range":["#e04848","#4a6ae8"]},"legend":null}}},
{"data":{"name":"bboxes"},"mark":{"type":"text","fontSize":4.6},"encoding":{"text":{"field":"t"},"color":{"field":"g","type":"nominal","scale":{"domain":["red","blue"],"range":["#e04848","#4a6ae8"]},"legend":null}}},
{"data":{"name":"btexts"},"transform":[{"filter":"datum.g=='plain'"}],"mark":{"type":"text","align":"left","fontSize":4.6,"color":"#111"},"encoding":{"text":{"field":"t"}}},
{"data":{"name":"btexts"},"transform":[{"filter":"datum.g=='gray'"}],"mark":{"type":"text","align":"right","fontSize":6.5,"font":"Liberation Serif","color":"#8a8a8a"},"encoding":{"text":{"field":"t"}}},
{"data":{"name":"btexts"},"transform":[{"filter":"datum.g=='navy'"}],"mark":{"type":"text","align":"right","fontSize":6.5,"font":"Liberation Serif","fontStyle":"italic","color":"#2a2aa8"},"encoding":{"text":{"field":"t"}}}
]}
]
}
